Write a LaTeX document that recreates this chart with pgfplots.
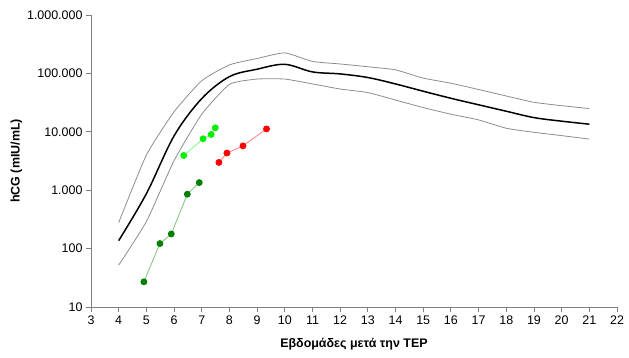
\documentclass[border=0pt]{standalone}
\usepackage{pgfplots}
\pgfplotsset{compat=1.18}
\usepackage{fontspec}
\setmainfont{Liberation Sans}
\definecolor{axgray}{HTML}{808080}
\definecolor{bandgray}{HTML}{8C8C8C}
\definecolor{dgreen}{HTML}{008000}
\definecolor{lgreen}{HTML}{00F000}
\definecolor{rred}{HTML}{FF0000}
\begin{document}
\begin{tikzpicture}
\begin{axis}[
  scale only axis,
  width=526bp, height=292bp,
  xmin=3, xmax=22, ymin=10, ymax=1000000,
  ymode=log,
  axis x line*=bottom, axis y line*=left,
  axis line style={-, axgray, line width=0.9pt},
  tick style={axgray, line width=0.8pt},
  tick align=outside, major tick length=5bp,
  yminorticks=false,
  xtick={3,4,...,22},
  ytick={10,100,1000,10000,100000,1000000},
  yticklabels={10,100,1.000,10.000,100.000,1.000.000},
  ticklabel style={font=\fontsize{12.5}{14}\selectfont},
  /pgf/number format/assume math mode=true,
  xlabel={\textbf{Εβδομάδες μετά την ΤΕΡ}},
  ylabel={\textbf{hCG (mIU/mL)}},
  label style={font=\fontsize{12.5}{14}\selectfont},
  xlabel style={yshift=-7bp},
  ylabel style={yshift=-2bp},
  clip=false,
]
% upper band
\addplot[bandgray, line width=0.8pt, smooth, tension=0.3] coordinates {
(4,279) (5,4000) (6,22000) (7,75000) (8,140000) (9,180000) (10,225000) (11,160000)
(12,145000) (13,130000) (14,115000) (15,83000) (16,68000) (17,53000) (18,41000)
(19,32000) (20,28000) (21,25000)};
% lower band
\addplot[bandgray, line width=0.8pt, smooth, tension=0.3] coordinates {
(4,52) (5,290) (6,3200) (7,20000) (8,65000) (9,80000) (10,80000) (11,66000)
(12,54000) (13,47000) (14,35000) (15,26000) (16,20000) (17,16000) (18,11500)
(19,9800) (20,8600) (21,7500)};
% median
\addplot[black, line width=1.5pt, smooth, tension=0.55] coordinates {
(4,137) (5,870) (6,8500) (7,37000) (8,88000) (9,118000) (10,143000) (11,106000)
(12,98000) (13,85000) (14,66000) (15,49500) (16,37500) (17,29000) (18,22500)
(19,17500) (20,15200) (21,13500)};
% dark green
\addplot[color=dgreen!50!white, line width=0.8pt, mark=*, mark size=3bp,
  mark options={fill=dgreen, draw=dgreen}] coordinates {
(4.91,27) (5.49,122) (5.90,178) (6.48,855) (6.91,1350)};
% light green
\addplot[color=lgreen!50!white, line width=0.8pt, mark=*, mark size=3bp,
  mark options={fill=lgreen, draw=lgreen}] coordinates {
(6.35,3930) (7.05,7600) (7.34,9000) (7.49,11700)};
% red
\addplot[color=rred!50!white, line width=0.8pt, mark=*, mark size=3bp,
  mark options={fill=rred, draw=rred}] coordinates {
(7.62,2990) (7.91,4330) (8.49,5740) (9.34,11200)};
\end{axis}
\path (current axis.south west) ++(-91bp,-51bp) rectangle ++(629bp,358bp);
\end{tikzpicture}
\end{document}
